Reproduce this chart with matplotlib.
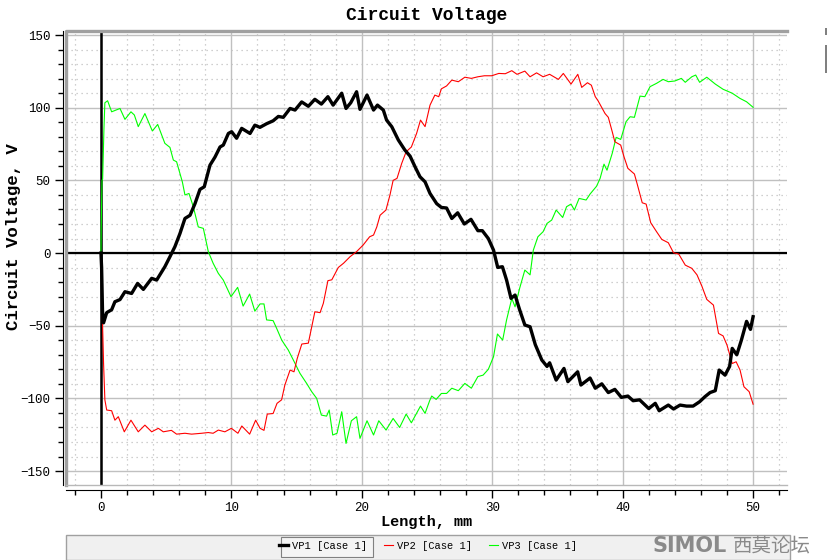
import numpy as np
import matplotlib
matplotlib.use("Agg")
import matplotlib.pyplot as plt
from matplotlib.patches import Rectangle

# ---- data (Length in mm, voltage in V)
x_vp1 = [0, 0.05, 0.12, 0.2, 0.44, 0.82, 1.07, 1.46, 1.84, 2.35,
         2.81, 3.25, 3.89, 4.27, 4.9, 5.29, 5.67, 6.06, 6.44, 6.83,
         7.21, 7.59, 7.92, 8.36, 8.74, 9.13, 9.38, 9.77, 10.02, 10.4,
         10.79, 11.43, 11.8, 12.19, 12.7, 13.2, 13.6, 13.98, 14.5, 14.88,
         15.39, 15.9, 16.4, 16.9, 17.4, 17.8, 18.46, 18.79, 19.15, 19.6,
         19.86, 20.4, 20.9, 21.2, 21.65, 21.9, 22.3, 22.8, 23.3, 23.7,
         24.08, 24.46, 24.85, 25.23, 25.74, 26.1, 26.5, 26.9, 27.35, 27.86,
         28.37, 28.9, 29.24, 29.7, 30.1, 30.42, 30.78, 31.1, 31.44, 31.75,
         32.1, 32.5, 32.9, 33.3, 33.8, 34.2, 34.4, 34.9, 35.5, 35.8,
         36.55, 36.8, 37.5, 37.9, 38.4, 38.9, 39.4, 39.9, 40.4, 40.8,
         41.3, 42.0, 42.5, 42.8, 43.5, 43.9, 44.4, 44.9, 45.4, 45.9,
         46.3, 46.7, 47.1, 47.4, 47.85, 48.2, 48.4, 48.75, 49.1, 49.5,
         49.8, 50.0]
y_vp1 = [0, -10, -40, -48, -41, -39, -33.5, -32, -26.6, -27.8,
         -20.9, -25, -17.4, -18.6, -9.4, -2.5, 4.4, 13.5, 23.8, 26,
         34, 43.8, 45.6, 60.5, 66, 73, 74.3, 82.3, 83.5, 79,
         85.8, 82.3, 88, 86.5, 89, 91, 94, 93.4, 99.5, 98.4,
         104, 101, 105.8, 102.5, 107.6, 101.8, 110, 99.5, 103.4, 111,
         98.9, 108.7, 98.4, 101.8, 98.4, 91.5, 86.9, 77.8, 70.9, 66.7,
         59.4, 52.5, 49, 41, 34, 31.4, 31, 23.8, 27.7, 20,
         23.2, 15.4, 15.4, 10, 2, -9.9, -9.4, -18.6, -31.2, -28.9,
         -39, -49.5, -50.7, -63, -73.6, -78, -75.5, -87.4, -79.4, -88.5,
         -81.7, -90.8, -86, -93, -90, -96, -93.8, -99.3, -98.4, -101.6,
         -101, -107, -103.4, -108.5, -104.6, -107.3, -104.6, -105.3, -105.3, -102.3,
         -98.9, -96, -94.7, -80.5, -84, -78, -65.6, -70, -60, -47,
         -52.5, -43.8]

x_vp2 = [0, 0.05, 0.12, 0.2, 0.3, 0.44, 0.82, 1.07, 1.33, 1.79,
         2.3, 2.86, 3.37, 3.89, 4.4, 4.78, 5.4, 5.8, 6.44, 6.95,
         7.72, 8.23, 8.6, 9.0, 9.5, 10.0, 10.5, 10.8, 11.4, 11.86,
         12.2, 12.5, 12.75, 13.2, 13.5, 13.85, 14.1, 14.5, 14.8, 15.05,
         15.4, 15.9, 16.4, 16.8, 17.05, 17.4, 17.7, 18.2, 18.6, 19.1,
         19.6, 20.1, 20.6, 20.9, 21.15, 21.4, 21.85, 22.16, 22.4, 22.7,
         23.06, 23.4, 23.8, 24.2, 24.5, 24.85, 25.23, 25.6, 25.9, 26.1,
         26.5, 26.9, 27.4, 27.9, 28.4, 28.9, 29.4, 29.96, 30.5, 31.0,
         31.5, 31.9, 32.5, 32.9, 33.4, 33.9, 34.4, 35.07, 35.45, 36.04,
         36.56, 36.86, 37.3, 37.6, 37.9, 38.1, 38.65, 38.9, 39.2, 39.4,
         39.85, 40.1, 40.4, 40.9, 41.1, 41.5, 41.8, 42.15, 42.6, 43.0,
         43.5, 43.9, 44.3, 44.8, 45.3, 45.7, 46.07, 46.45, 46.96, 47.35,
         47.7, 48.0, 48.4, 48.7, 49.0, 49.3, 49.7, 50.0]
y_vp2 = [0, -20, -48, -76, -101, -108, -108.5, -115, -112.6, -123,
         -115, -123, -118.4, -123, -120.6, -123, -122, -124.6, -124, -124.6,
         -124, -123.5, -124, -121.8, -123, -120.6, -124, -119, -124.6, -115,
         -120.6, -122, -110.8, -110.4, -103.4, -101, -90.8, -80.5, -81.7, -72.5,
         -62.6, -62, -40.4, -41, -34.6, -19, -18.4, -9.9, -7, -2.5,
         1, 5.5, 11.2, 12.4, 18, 26, 29.6, 40, 50, 51.4,
         61.7, 69.7, 73, 82.3, 91.5, 87, 101.8, 108.7, 107.6, 113,
         115, 119, 117.9, 121, 120.2, 121.3, 122, 122, 123.6, 123.4,
         125.5, 123, 125.2, 121.3, 124, 121.3, 123, 119.5, 123.6, 116.3,
         123, 114, 117.2, 115.5, 107.6, 105, 96, 93.4, 83.5, 76.6,
         74.3, 66.3, 58.3, 54.4, 48, 34.6, 33.7, 20.9, 14.7, 9.4,
         7.1, 0.2, -0.7, -8.3, -10.5, -15, -22.7, -31.9, -35.8, -55.3,
         -57, -63.3, -76, -74.8, -80.5, -92, -95.4, -104]

x_vp3 = [0, 0.02, 0.08, 0.13, 0.23, 0.3, 0.51, 0.82, 1.46, 1.84,
         2.3, 2.56, 2.86, 3.37, 3.94, 4.35, 4.9, 5.29, 5.55, 5.8,
         6.24, 6.44, 6.75, 7.08, 7.46, 7.85, 8.23, 8.6, 9.0, 9.38,
         9.97, 10.48, 10.9, 11.4, 11.8, 12.2, 12.5, 12.7, 13.2, 13.47,
         13.86, 14.36, 14.75, 15.26, 15.77, 16.16, 16.54, 16.9, 17.3, 17.5,
         17.77, 18.1, 18.46, 18.79, 19.2, 19.6, 19.86, 20.4, 20.9, 21.3,
         21.86, 22.4, 22.9, 23.4, 23.8, 24.5, 24.85, 25.2, 25.36, 25.7,
         26.1, 26.5, 26.9, 27.4, 27.9, 28.4, 28.9, 29.3, 29.7, 30.1,
         30.4, 30.8, 31.1, 31.5, 31.75, 32.1, 32.5, 32.9, 33.15, 33.5,
         33.9, 34.2, 34.56, 34.9, 35.4, 35.7, 36.04, 36.3, 36.66, 37.2,
         37.5, 38.0, 38.27, 38.57, 38.8, 39.2, 39.5, 39.85, 40.26, 40.57,
         40.9, 41.33, 41.7, 42.1, 42.6, 43.1, 43.5, 44.0, 44.5, 44.8,
         45.3, 45.6, 45.9, 46.45, 47.1, 47.7, 48.4, 49.0, 49.5, 50.0]
y_vp3 = [0, 18, 50, 51, 85.8, 103.4, 104.8, 97.2, 99.5, 92,
         97.2, 95, 87, 96, 84, 88.5, 75.5, 72.7, 64, 62.8,
         49, 40, 41, 31.9, 18, 17, 1, -7, -14, -18.6,
         -30, -23.6, -36.5, -28.2, -40, -35, -35, -46, -46.5, -51.8,
         -59.9, -66.7, -73.6, -82.8, -89.7, -95.4, -100, -111.5, -112.2, -108,
         -125.2, -124, -109.2, -131, -115.4, -112.6, -127.5, -115.4, -125.2, -115.4,
         -121.8, -113.8, -120, -110.8, -116.8, -105.3, -110.3, -101.6, -98.4, -100.7,
         -96.6, -96.6, -93, -94.7, -89.7, -93, -85, -84, -80, -71.3,
         -55.7, -59.9, -46, -31.2, -37, -24.3, -11.7, -15, 2, 11.2,
         14.7, 20.4, 22.7, 29.6, 24.5, 31.9, 33.7, 29.6, 37.6, 36.5,
         40.6, 46, 51.4, 61.2, 57, 68.6, 79.6, 78.2, 90.4, 93.8,
         93.4, 108, 107.6, 114.5, 116.8, 119.5, 117.9, 118.4, 120.2, 117.5,
         121.3, 122.5, 117.5, 121, 116.3, 112.7, 110, 106.4, 104.1, 100.3]

series_labels = ["VP1 [Case 1]", "VP2 [Case 1]", "VP3 [Case 1]"]
x_major = [0, 10, 20, 30, 40, 50]
y_major = [-150, -100, -50, 0, 50, 100, 150]

MONO = "Liberation Mono"
W, H = 827, 560

fig = plt.figure(figsize=(W / 100, H / 100), dpi=100)
ax = fig.add_axes([66 / W, 1 - 485 / H, (787 - 66) / W, (485 - 31) / H])

ax.set_xlim(-2.68, 52.6)
ax.set_ylim(-159.6, 152.8)

ax.set_xticks(x_major)
ax.set_xticks(np.arange(-2, 53, 2), minor=True)
ax.set_yticks(y_major)
ax.set_yticks(np.arange(-150, 151, 10), minor=True)

ax.grid(which="major", color="#c0c0c0", lw=1.0, ls="-")
ax.grid(which="minor", color="#c0c0c0", lw=0.9, ls=(0, (1, 3)))
ax.set_axisbelow(True)

# spines: black axis lines set slightly outward, grey frame on the plot box
for s in ("top", "right"):
    ax.spines[s].set_visible(False)
ax.spines["left"].set_position(("outward", 2.2))
ax.spines["bottom"].set_position(("outward", 3.6))
ax.plot([0, 0, 1], [0, 1, 1], transform=ax.transAxes, color="#a0a0a0",
        lw=2.4, clip_on=False, zorder=5)
ax.plot([0, 1], [0, 0], transform=ax.transAxes, color="#b8b8b8",
        lw=1.0, clip_on=False, zorder=5)

ax.tick_params(which="major", length=5.8, width=1, pad=3, labelsize=9)
ax.tick_params(which="minor", length=3.5, width=1)
for lab in ax.get_xticklabels() + ax.get_yticklabels():
    lab.set_family(MONO)

ax.axhline(0, color="black", lw=1.6, zorder=2)
ax.axvline(0, color="black", lw=1.8, zorder=2)

l3, = ax.plot(x_vp3, y_vp3, color="#00ff00", lw=0.8, zorder=3, label=series_labels[2])
l2, = ax.plot(x_vp2, y_vp2, color="#ff0000", lw=0.8, zorder=3, label=series_labels[1])
l1, = ax.plot(x_vp1, y_vp1, color="black", lw=2.4, zorder=4, label=series_labels[0])

fig.text(427 / W, 1 - 15 / H, "Circuit Voltage", ha="center", va="center",
         fontsize=13, family=MONO, weight="bold")
fig.text(427 / W, 1 - 522 / H, "Length, mm", ha="center", va="center",
         fontsize=11, family=MONO, weight="bold")
fig.text(14 / W, 1 - 237 / H, "Circuit Voltage, V", ha="center", va="center",
         rotation=90, fontsize=12.5, family=MONO, weight="bold")

# ---- legend strip at the bottom
fig.add_artist(Rectangle((66 / W, 0), (790 - 66) / W, 25 / H, transform=fig.transFigure,
                         facecolor="#f0f0f0", edgecolor="#a0a0a0", lw=1))
fig.add_artist(Rectangle((281 / W, 3 / H), 92 / W, 20 / H, transform=fig.transFigure,
                         facecolor="#f4f4f4", edgecolor="#808080", lw=0.8))
fig.legend(handles=[l1, l2, l3], labels=series_labels, loc="center",
           bbox_to_anchor=(428 / W, 1 - 546 / H), ncol=3, frameon=False,
           prop={"family": MONO, "size": 7.5}, handlelength=0.9,
           handletextpad=0.4, columnspacing=1.6)

# watermark and small bars at the right edge
fig.text(690 / W, 1 - 546 / H, "SIMOL", ha="center", va="center",
         fontsize=15, color="#8a8a8a", weight="bold", family="DejaVu Sans")
fig.text(772 / W, 1 - 546 / H, "西莫论坛", ha="center", va="center",
         fontsize=14, color="#8a8a8a", family=["Noto Sans CJK SC", "DejaVu Sans"])
fig.add_artist(Rectangle((825 / W, 1 - 35 / H), 2 / W, 7 / H, transform=fig.transFigure,
                         facecolor="#808080", edgecolor="none"))
fig.add_artist(Rectangle((825 / W, 1 - 73 / H), 2 / W, 28 / H, transform=fig.transFigure,
                         facecolor="#808080", edgecolor="none"))

fig.savefig("out.png", dpi=100)
